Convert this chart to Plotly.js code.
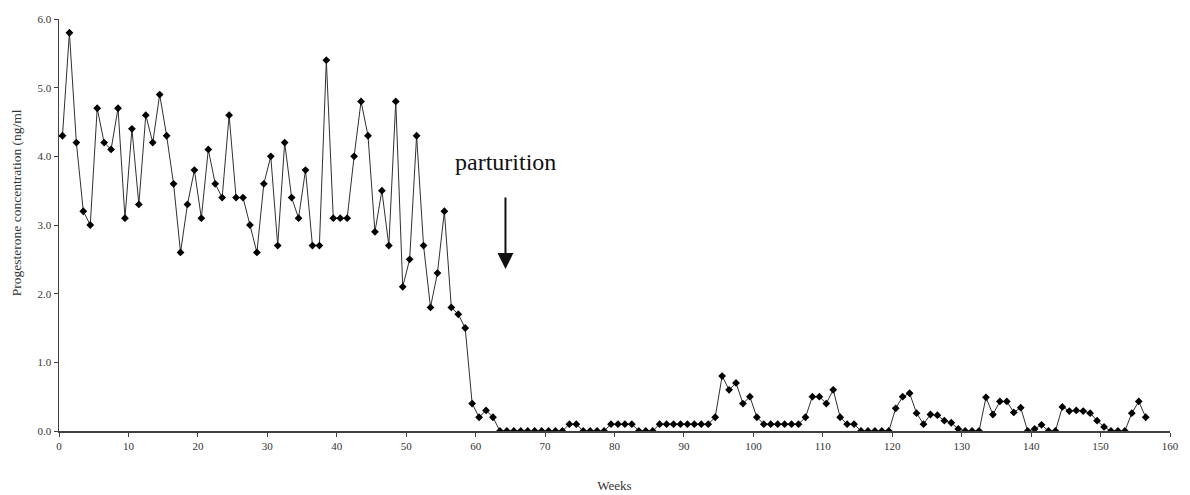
<!DOCTYPE html>
<html>
<head>
<meta charset="utf-8">
<script src="https://cdn.plot.ly/plotly-3.0.1.min.js"></script>
<style>html,body{margin:0;padding:0;background:#fff;}#chart{width:1190px;height:495px;}</style>
</head>
<body>
<div id="chart"></div>
<script>
// Weeks (sampling points, mid-week)
const weeks = [0.5,1.5,2.5,3.5,4.5,5.5,6.5,7.5,8.5,9.5,
  10.5,11.5,12.5,13.5,14.5,15.5,16.5,17.5,18.5,19.5,
  20.5,21.5,22.5,23.5,24.5,25.5,26.5,27.5,28.5,29.5,
  30.5,31.5,32.5,33.5,34.5,35.5,36.5,37.5,38.5,39.5,
  40.5,41.5,42.5,43.5,44.5,45.5,46.5,47.5,48.5,49.5,
  50.5,51.5,52.5,53.5,54.5,55.5,56.5,57.5,58.5,59.5,
  60.5,61.5,62.5,63.5,64.5,65.5,66.5,67.5,68.5,69.5,
  70.5,71.5,72.5,73.5,74.5,75.5,76.5,77.5,78.5,79.5,
  80.5,81.5,82.5,83.5,84.5,85.5,86.5,87.5,88.5,89.5,
  90.5,91.5,92.5,93.5,94.5,95.5,96.5,97.5,98.5,99.5,
  100.5,101.5,102.5,103.5,104.5,105.5,106.5,107.5,108.5,109.5,
  110.5,111.5,112.5,113.5,114.5,115.5,116.5,117.5,118.5,119.5,
  120.5,121.5,122.5,123.5,124.5,125.5,126.5,127.5,128.5,129.5,
  130.5,131.5,132.5,133.5,134.5,135.5,136.5,137.5,138.5,139.5,
  140.5,141.5,142.5,143.5,144.5,145.5,146.5,147.5,148.5,149.5,
  150.5,151.5,152.5,153.5,154.5,155.5,156.5];

// Progesterone concentration (ng/ml)
const progesterone = [4.3,5.8,4.2,3.2,3.0,4.7,4.2,4.1,4.7,3.1,
  4.4,3.3,4.6,4.2,4.9,4.3,3.6,2.6,3.3,3.8,
  3.1,4.1,3.6,3.4,4.6,3.4,3.4,3.0,2.6,3.6,
  4.0,2.7,4.2,3.4,3.1,3.8,2.7,2.7,5.4,3.1,
  3.1,3.1,4.0,4.8,4.3,2.9,3.5,2.7,4.8,2.1,
  2.5,4.3,2.7,1.8,2.3,3.2,1.8,1.7,1.5,0.4,
  0.2,0.3,0.2,0,0,0,0,0,0,0,
  0,0,0,0.1,0.1,0,0,0,0,0.1,
  0.1,0.1,0.1,0,0,0,0.1,0.1,0.1,0.1,
  0.1,0.1,0.1,0.1,0.2,0.8,0.6,0.7,0.4,0.5,
  0.2,0.1,0.1,0.1,0.1,0.1,0.1,0.2,0.5,0.5,
  0.4,0.6,0.2,0.1,0.1,0,0,0,0,0,
  0.33,0.5,0.55,0.26,0.1,0.24,0.23,0.15,0.12,0.03,
  0,0,0,0.49,0.24,0.43,0.43,0.27,0.34,0,
  0.03,0.09,0,0,0.35,0.29,0.3,0.29,0.26,0.15,
  0.06,0,0,0,0.26,0.43,0.2];

const xTicks = [0,10,20,30,40,50,60,70,80,90,100,110,120,130,140,150,160];
const yTicks = [0,1,2,3,4,5,6];
const yTickText = ["0.0","1.0","2.0","3.0","4.0","5.0","6.0"];

const yTitle = "Progesterone concentration (ng/ml";
const label = {text: "parturition", week: 64.3, level: 3.92};
const arrowAt = {week: 64.3, level: 2.36};

const font = "'Liberation Serif', 'Times New Roman', serif";

const trace = {
  x: weeks, y: progesterone, type: "scatter", mode: "lines+markers",
  line: {color: "#303030", width: 1},
  marker: {symbol: "diamond", size: 6, color: "#000"},
  hoverinfo: "skip", showlegend: false
};

const layout = {
  width: 1190, height: 495,
  margin: {l: 59, r: 20, t: 19, b: 64},
  paper_bgcolor: "#fff", plot_bgcolor: "#fff",
  font: {family: font, color: "#333", size: 11},
  xaxis: {
    range: [0, 160], tickvals: xTicks, ticktext: xTicks.map(String),
    ticks: "outside", ticklen: 4, tickwidth: 1, tickcolor: "#404040",
    showline: true, linecolor: "#404040", linewidth: 1.5,
    showgrid: false, zeroline: false,
    tickfont: {family: font, size: 11, color: "#333"},
    title: {text: "Weeks", font: {family: font, size: 13, color: "#333"}, standoff: 30}
  },
  yaxis: {
    range: [0, 6], tickvals: yTicks, ticktext: yTickText,
    ticks: "outside", ticklen: 4, tickwidth: 1, tickcolor: "#404040",
    showline: true, linecolor: "#404040", linewidth: 1.5,
    showgrid: false, zeroline: false,
    tickfont: {family: font, size: 11, color: "#333"}
  },
  annotations: [
    {xref: "paper", yref: "paper", x: -0.0387, y: 0.553, xanchor: "center", yanchor: "middle",
     text: yTitle, textangle: -90, showarrow: false,
     font: {family: font, size: 13.5, color: "#333"}},
    {x: label.week, y: label.level, xref: "x", yref: "y", text: label.text, showarrow: false,
     font: {family: font, size: 24, color: "#111"}},
    {x: arrowAt.week, y: arrowAt.level, xref: "x", yref: "y", text: "", showarrow: true,
     ax: 0, ay: -73, arrowhead: 2, arrowsize: 1.6, arrowwidth: 2, arrowcolor: "#111"}
  ]
};

Plotly.newPlot("chart", [trace], layout, {displayModeBar: false, staticPlot: true});
</script>
</body>
</html>
